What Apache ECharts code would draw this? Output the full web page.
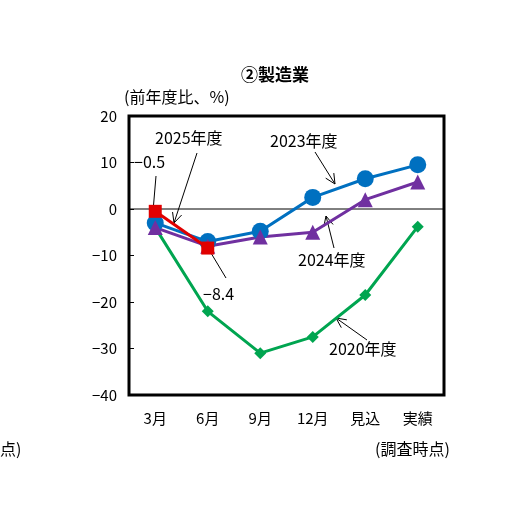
<!DOCTYPE html><html><head><meta charset="utf-8">
<script src="https://cdn.jsdelivr.net/npm/echarts@6/dist/echarts.min.js"></script>
<style>body{margin:0}#c{width:520px;height:509px}</style></head><body><div id="c"></div><script>
const categories=['3月','6月','9月','12月','見込','実績'];
const s2020=[-4,-22,-31,-27.5,-18.5,-3.8];
const s2023=[-3,-7,-4.8,2.5,6.5,9.5];
const s2024=[-4,-8,-6,-5,2,5.8];
const s2025=[-0.5,-8.4];
const yTicks=[-40,-30,-20,-10,0,10,20];
const F='"Noto Sans CJK JP"';
const ch=echarts.init(document.getElementById('c'));
const ser=(name,data,color,sym,size)=>({name,type:'line',data,symbol:sym,symbolSize:size,lineStyle:{color,width:3},itemStyle:{color},z:name==='2025'?10:5,animation:false});
ch.setOption({
 title:{text:'②製造業',left:270,top:61,textAlign:'center',textStyle:{fontFamily:F,fontSize:17,fontWeight:'bold',color:'#000'}},
 grid:{left:129,right:76,top:116,bottom:114},
 xAxis:{type:'category',data:categories,boundaryGap:true,axisLine:{show:false},axisTick:{show:false},axisLabel:{fontFamily:F,fontSize:15,color:'#000',margin:16}},
 yAxis:{type:'value',min:-40,max:20,interval:10,axisLine:{show:false},axisTick:{show:true,inside:true,length:5,lineStyle:{color:'#000'}},splitLine:{show:false},axisLabel:{fontFamily:F,fontSize:15,color:'#000',margin:12,formatter:v=>String(v).replace('-','−')}},
 series:[ser('2020',s2020,'#00a550','diamond',12),ser('2023',s2023,'#0070c0','circle',17),ser('2024',s2024,'#7030a0','triangle',15),ser('2025',s2025,'#e00000','rect',13)]
});
const p=(i,v)=>ch.convertToPixel({gridIndex:0},[i,v]);
const g=[];
const txt=(x,y,t)=>g.push({type:'text',x,y,style:{text:t,font:'16px '+F,fill:'#000'}});
const line=(a,b)=>g.push({type:'line',shape:{x1:a[0],y1:a[1],x2:b[0],y2:b[1]},style:{stroke:'#000',lineWidth:1}});
const arrow=(a,b)=>{line(a,b);const ang=Math.atan2(b[1]-a[1],b[0]-a[0]),L=11;[0.45,-0.45].forEach(d=>line(b,[b[0]-L*Math.cos(ang+d),b[1]-L*Math.sin(ang+d)]));};
const x0=129,x1=444,y0=116,y1=395;
g.push({type:'rect',shape:{x:x0,y:y0,width:x1-x0,height:y1-y0},style:{fill:'none',stroke:'#000',lineWidth:3},z:100});
const z=p(0,0)[1];
g.push({type:'line',shape:{x1:x0,y1:z,x2:x1,y2:z},style:{stroke:'#000',lineWidth:1},z:1});
txt(124,89,'(前年度比、%)');
txt(0,441,'点)');txt(375,441,'(調査時点)');
txt(155,130,'2025年度');arrow([197,153],[174,p(0,-3)[1]]);
txt(270,133,'2023年度');arrow([315,152],[335,184]);
txt(298,252,'2024年度');arrow([334,248],[326,216]);
txt(329,341,'2020年度');arrow([367,340],[336,318]);
txt(134,154,'−0.5');line([156,176],[153,p(0,-0.5)[1]]);
txt(203,286,'−8.4');line([226,278],[208,p(1,-8.4)[1]]);
ch.setOption({graphic:g});
</script></body></html>
